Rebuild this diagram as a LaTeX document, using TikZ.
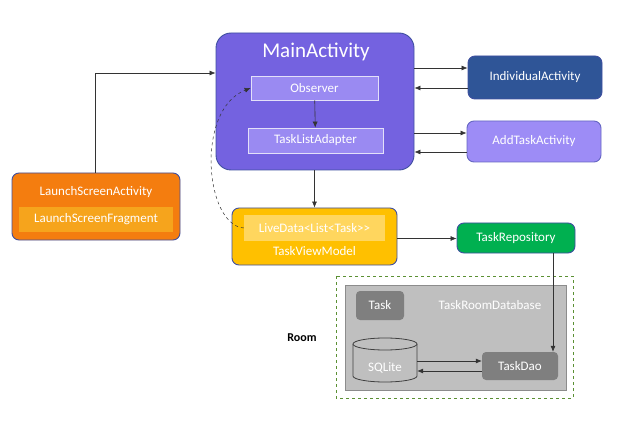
\documentclass[tikz,border=0pt]{standalone}
\usepackage{fontspec}
\setmainfont{Carlito}
\usetikzlibrary{arrows.meta,shapes.geometric}
\definecolor{mainfill}{HTML}{7462E0}
\definecolor{mainborder}{HTML}{3F4FA0}
\definecolor{innerfill}{HTML}{9A8AF2}
\definecolor{indfill}{HTML}{2F5597}
\definecolor{addfill}{HTML}{9D8CF6}
\definecolor{orangefill}{HTML}{F47D0F}
\definecolor{orangeinner}{HTML}{F6A41C}
\definecolor{yellowfill}{HTML}{FFC000}
\definecolor{yellowinner}{HTML}{FFD65E}
\definecolor{greenfill}{HTML}{00B050}
\definecolor{dashgreen}{HTML}{5B9033}
\definecolor{dbfill}{HTML}{BFBFBF}
\definecolor{dbborder}{HTML}{8C8C8C}
\definecolor{darkgray}{HTML}{7F7F7F}
\tikzset{
  lbl/.style={font=\fontsize{13}{15}\selectfont},
  box/.style={draw=mainborder, line width=0.9pt, rounded corners=7pt, text=white, lbl},
  inner/.style={draw=white!80!mainfill, line width=0.7pt, fill=innerfill, text=white, lbl},
  conn/.style={-{Latex[length=6pt,width=5pt]}, line width=0.6pt, draw=black!80},
  graybox/.style={fill=darkgray, rounded corners=4pt, text=white, lbl},
  cyl/.style={draw=black!75, line width=0.8pt, fill=dbfill},
}
\begin{document}
\begin{tikzpicture}[x=1pt,y=-1pt]
\useasboundingbox (0,0) rectangle (621,422);
% MainActivity
\node[box, fill=mainfill, rounded corners=15pt, minimum width=198pt, minimum height=137pt] (main) at (315,101.5) {};
\node[text=white, font=\fontsize{21}{24}\selectfont] (maintitle) at (316,52) {MainActivity};
\node[inner, minimum width=127pt, minimum height=24pt] (obs) at (314.5,88) {Observer};
\node[inner, minimum width=135pt, minimum height=25pt] (tla) at (315.5,140.5) {TaskListAdapter};
\draw[conn] (obs) -- (tla);
% Individual / AddTask
\node[box, fill=indfill, minimum width=134pt, minimum height=43pt] (ind) at (535,77.5) {IndividualActivity};
\node[box, fill=addfill, draw=mainborder!60!addfill, minimum width=134pt, minimum height=41pt] (add) at (534,141.5) {AddTaskActivity};
\draw[conn] (main.east |- 0,68) -- (ind.west |- 0,68);
\draw[conn] (ind.west |- 0,88) -- (main.east |- 0,88);
\draw[conn] (main.east |- 0,133) -- (add.west |- 0,133);
\draw[conn] (add.west |- 0,152) -- (main.east |- 0,152);
% LaunchScreen
\node[box, fill=orangefill, minimum width=168pt, minimum height=67pt] (launch) at (96,206.5) {};
\node[text=white, lbl] (launchtitle) at (96,192) {LaunchScreenActivity};
\node[fill=orangeinner, text=white, lbl, minimum width=154pt, minimum height=25pt] (frag) at (96,219.5) {LaunchScreenFragment};
\draw[conn] (launch.north -| 95,0) -- (95,73) -- (main.west |- 0,73);
% TaskViewModel
\node[box, fill=yellowfill, minimum width=165pt, minimum height=57pt] (tvm) at (314.5,236.5) {};
\node[fill=yellowinner, text=white, lbl, minimum width=141pt, minimum height=26pt] (live) at (314.5,228) {LiveData<{}List<{}Task>{}>};
\node[text=white, lbl] (tvmlabel) at (314.5,251) {TaskViewModel};
\draw[conn] (main.south -| tvm.north) -- (tvm.north);
\draw[conn, dashed, line width=0.5pt] (live.west) .. controls (205,225) and (195,110) .. (obs.west);
% TaskRepository
\node[box, fill=greenfill, minimum width=118pt, minimum height=30pt] (repo) at (516,238) {TaskRepository};
\draw[conn] (tvm.east |- 0,238.5) -- (repo.west |- 0,238.5);
% Room
\draw[dashgreen, dashed, line width=0.9pt] (336,276) rectangle (573,398);
\node[draw=dbborder, fill=dbfill, line width=0.8pt, minimum width=221pt, minimum height=105pt] (db) at (455.5,337.5) {};
\node[text=white, lbl] (dblabel) at (490,305) {TaskRoomDatabase};
\node[graybox, minimum width=48pt, minimum height=29pt] (task) at (380,305.5) {Task};
% SQLite cylinder
\node[minimum width=64pt, minimum height=44pt, inner sep=0pt] (sql) at (385,360) {};
\draw[cyl] (353,344) -- (353,376) arc[start angle=180, end angle=0, x radius=32, y radius=6] -- (417,344);
\draw[cyl] (385,344) ellipse [x radius=32, y radius=6];
\node[text=white, lbl] (sqllabel) at (385,368) {SQLite};
\node[graybox, minimum width=76pt, minimum height=28pt] (dao) at (520,366) {TaskDao};
\draw[conn] (sql.east |- 0,361) -- (dao.west |- 0,361);
\draw[conn] (dao.west |- 0,371) -- (sql.east |- 0,371);
\draw[conn] (repo.south -| 553,0) -- (dao.north -| 553,0);
\node[font=\bfseries\fontsize{12}{14}\selectfont] (room) at (302,338) {Room};
\end{tikzpicture}
\end{document}
